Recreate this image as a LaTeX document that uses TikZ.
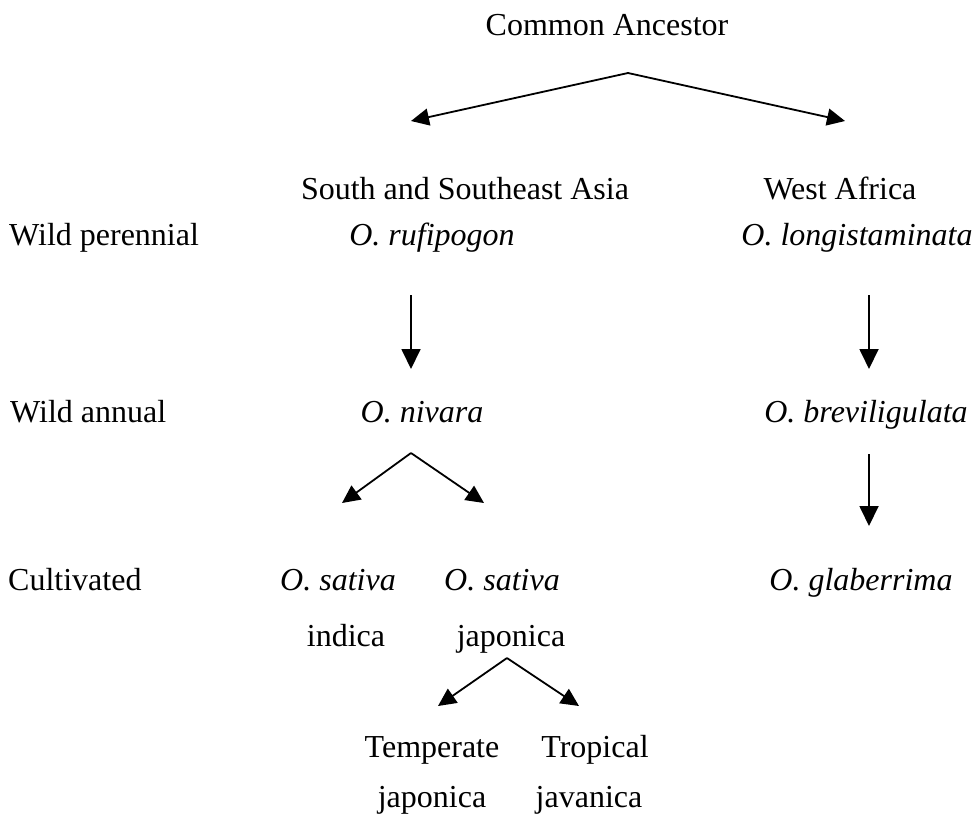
\documentclass[tikz,border=0pt]{standalone}
\usepackage{fontspec}
\setmainfont{Liberation Serif}
\usetikzlibrary{arrows.meta}
\begin{document}
\begin{tikzpicture}[x=1pt,y=-1pt,
  lbl/.style={font=\fontsize{32}{36}\selectfont, inner sep=0pt, anchor=base},
  rowlbl/.style={lbl, anchor=base west},
  sp/.style={lbl, font=\fontsize{32}{36}\selectfont\itshape},
  arr/.style={line width=1.8pt, -{Triangle[length=20pt,width=19pt]}},
  sarr/.style={line width=1.8pt, -{Triangle[length=18pt,width=17pt]}}]
\useasboundingbox (0,0) rectangle (979,817);
% texts
\node[lbl] (ca) at (607,35) {Common Ancestor};
\node[lbl] (ssa) at (465,199) {South and Southeast Asia};
\node[lbl] (wa) at (840,199) {West Africa};
\node[rowlbl] (wp) at (9,245) {Wild perennial};
\node[sp] (ruf) at (432,245) {O. rufipogon};
\node[sp] (lon) at (857,245) {O. longistaminata};
\node[rowlbl] (wan) at (10,422) {Wild annual};
\node[sp] (niv) at (422,422) {O. nivara};
\node[sp] (bre) at (866,422) {O. breviligulata};
\node[rowlbl] (cul) at (8,590) {Cultivated};
\node[sp] (sat1) at (338,590) {O. sativa};
\node[sp] (sat2) at (502,590) {O. sativa};
\node[sp] (gla) at (861,590) {O. glaberrima};
\node[lbl] (ind) at (346,646) {indica};
\node[lbl] (jap) at (511,646) {japonica};
\node[lbl] (tem) at (432,757) {Temperate};
\node[lbl] (tro) at (595,757) {Tropical};
\node[lbl] (tjap) at (432,807) {japonica};
\node[lbl] (jav) at (589,807) {javanica};
% connector points
\coordinate (a0) at (628,73);
\coordinate (a0l) at (411,121);
\coordinate (a0r) at (845,121);
\coordinate (r1t) at (411,295);
\coordinate (r1b) at (411,369);
\coordinate (r2t) at (869,295);
\coordinate (r2b) at (869,369);
\coordinate (n0) at (411,453);
\coordinate (n0l) at (342,503);
\coordinate (n0r) at (484,503);
\coordinate (r3t) at (869,454);
\coordinate (r3b) at (869,526);
\coordinate (j0) at (507,658);
\coordinate (j0l) at (438,706);
\coordinate (j0r) at (579,706);
% connectors
\draw[sarr] (a0) -- (a0l);
\draw[sarr] (a0) -- (a0r);
\draw[arr] (r1t) -- (r1b);
\draw[arr] (r2t) -- (r2b);
\draw[sarr] (n0) -- (n0l);
\draw[sarr] (n0) -- (n0r);
\draw[arr] (r3t) -- (r3b);
\draw[sarr] (j0) -- (j0l);
\draw[sarr] (j0) -- (j0r);
\end{tikzpicture}
\end{document}
